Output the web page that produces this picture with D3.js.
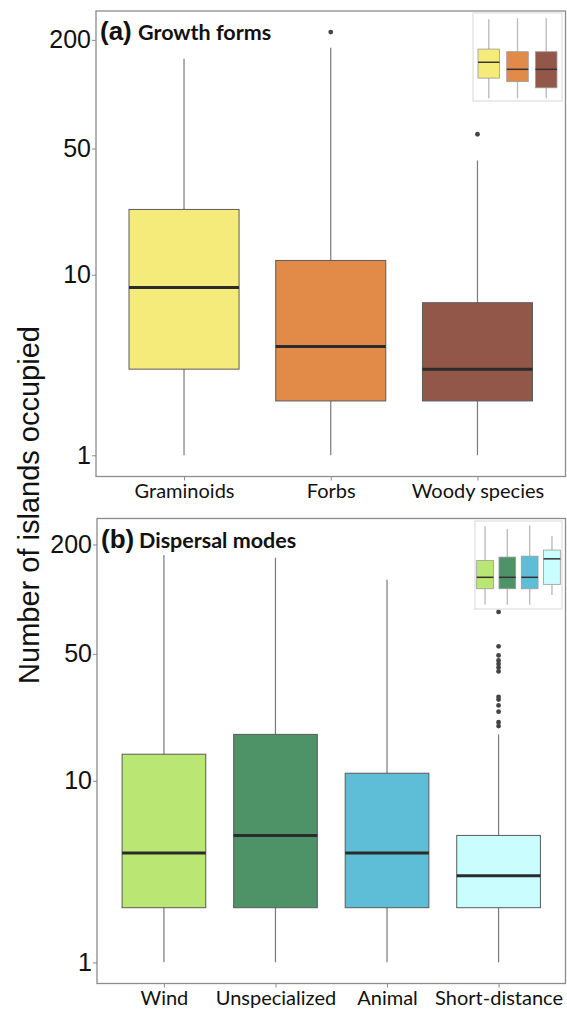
<!DOCTYPE html>
<html><head><meta charset="utf-8">
<script src="https://cdn.jsdelivr.net/npm/d3@7"></script>
<style>body{margin:0;background:#fff}svg{display:block}</style>
</head><body>
<svg id="chart" width="567" height="1010"></svg>
<script>
// Panel (a): growth forms — box summaries (number of islands)
const growthForms = ["Graminoids", "Forbs", "Woody species"];
const growthColors = ["#f5eb7b", "#e28b48", "#93574a"];
const growthLow = [1, 1, 1];
const growthQ1 = [3, 2, 2];
const growthMedian = [8.5, 4, 3];
const growthQ3 = [23, 12, 7];
const growthHigh = [157, 181, 43];
const growthOutliers = [[], [221], [60]];

// Panel (b): dispersal modes
const dispersalModes = ["Wind", "Unspecialized", "Animal", "Short-distance"];
const dispersalColors = ["#bae673", "#4e9367", "#5ebed8", "#cafefe"];
const dispersalLow = [1, 1, 1, 1];
const dispersalQ1 = [2, 2, 2, 2];
const dispersalMedian = [4, 5, 4, 3];
const dispersalQ3 = [14, 18, 11, 5];
const dispersalHigh = [175, 169, 128, 18];
const dispersalOutliers = [[], [], [], [85, 55, 49, 46, 44, 42, 40, 29, 28, 26, 24, 21, 20]];

// Inset boxes (relative scale 0–1)
const insetGrowthLow = [0.03, 0.03, 0.03];
const insetGrowthQ1 = [0.26, 0.22, 0.15];
const insetGrowthMedian = [0.44, 0.36, 0.36];
const insetGrowthQ3 = [0.59, 0.56, 0.56];
const insetGrowthHigh = [0.93, 0.94, 0.94];

const insetDispLow = [0.05, 0.05, 0.05, 0.16];
const insetDispQ1 = [0.23, 0.23, 0.23, 0.28];
const insetDispMedian = [0.36, 0.36, 0.36, 0.57];
const insetDispQ3 = [0.55, 0.59, 0.60, 0.67];
const insetDispHigh = [0.94, 0.91, 0.95, 0.83];

const yTicks = [1, 10, 50, 200];
const yLimitsA = [0.763, 289];
const yLimitsB = [0.765, 278];

const svg = d3.select("#chart");

function panel(cfg) {
  const { cats, colors, low, q1, med, q3, high, outliers, frame, yLimits, tag, title,
          inset } = cfg;
  const g = svg.append("g");
  const x = d3.scalePoint().domain(cats).range([frame.x0, frame.x1]).padding(0.6);
  const y = d3.scaleLog().domain(yLimits).range([frame.y1, frame.y0]);
  const boxW = x.step() * 0.75;

  // frame
  g.append("rect").attr("x", frame.x0).attr("y", frame.y0)
    .attr("width", frame.x1 - frame.x0).attr("height", frame.y1 - frame.y0)
    .attr("fill", "#fff").attr("stroke", "#8c8c8c").attr("stroke-width", 1.3);

  // axes
  const ya = g.append("g").attr("transform", `translate(${frame.x0},0)`)
    .call(d3.axisLeft(y).tickValues(yTicks).tickFormat(d3.format("d")).tickSize(4).tickPadding(1));
  ya.select(".domain").remove();
  ya.selectAll("line").attr("stroke", "#8c8c8c");
  ya.selectAll("text").attr("font-family", "Liberation Sans, Arial, sans-serif")
    .attr("font-size", 25).attr("fill", "#111");

  const xa = g.append("g").attr("transform", `translate(0,${frame.y1})`)
    .call(d3.axisBottom(x).tickSize(4).tickPadding(3));
  xa.select(".domain").remove();
  xa.selectAll("line").attr("stroke", "#8c8c8c");
  xa.selectAll("text").attr("font-family", "Lato, sans-serif")
    .attr("font-size", 20).attr("fill", "#111");

  const idx = d3.range(cats.length);
  // whiskers
  g.selectAll(".wh").data(idx).join("line")
    .attr("x1", i => x(cats[i])).attr("x2", i => x(cats[i]))
    .attr("y1", i => y(low[i])).attr("y2", i => y(high[i]))
    .attr("stroke", "#7a7a7a").attr("stroke-width", 1.2);
  // boxes
  g.selectAll(".bx").data(idx).join("rect")
    .attr("x", i => x(cats[i]) - boxW / 2).attr("width", boxW)
    .attr("y", i => y(q3[i])).attr("height", i => y(q1[i]) - y(q3[i]))
    .attr("fill", i => colors[i]).attr("stroke", "#5a5a5a").attr("stroke-width", 1);
  // medians
  g.selectAll(".md").data(idx).join("line")
    .attr("x1", i => x(cats[i]) - boxW / 2).attr("x2", i => x(cats[i]) + boxW / 2)
    .attr("y1", i => y(med[i])).attr("y2", i => y(med[i]))
    .attr("stroke", "#2b2b2b").attr("stroke-width", 3);
  // outliers
  const pts = idx.flatMap(i => outliers[i].map(v => ({ c: cats[i], v })));
  g.selectAll(".ol").data(pts).join("circle")
    .attr("cx", d => x(d.c)).attr("cy", d => y(d.v)).attr("r", 2.4)
    .attr("fill", "#444");

  // inset
  const ig = g.append("g");
  ig.append("rect").attr("x", inset.x0).attr("y", inset.y0)
    .attr("width", inset.x1 - inset.x0).attr("height", inset.y1 - inset.y0)
    .attr("fill", "#fff").attr("stroke", "#dedede").attr("stroke-width", 1.2);
  const ix = d3.scalePoint().domain(cats).range([inset.x0, inset.x1]).padding(inset.pad);
  const iy = d3.scaleLinear().domain([0, 1]).range([inset.y1, inset.y0]);
  const ibw = ix.step() * 0.75;
  const il = inset.data;
  ig.selectAll(".iw").data(idx).join("line")
    .attr("x1", i => ix(cats[i])).attr("x2", i => ix(cats[i]))
    .attr("y1", i => iy(il.low[i])).attr("y2", i => iy(il.high[i]))
    .attr("stroke", "#bdbdbd").attr("stroke-width", 1.4);
  ig.selectAll(".ib").data(idx).join("rect")
    .attr("x", i => ix(cats[i]) - ibw / 2).attr("width", ibw)
    .attr("y", i => iy(il.q3[i])).attr("height", i => iy(il.q1[i]) - iy(il.q3[i]))
    .attr("fill", i => colors[i]).attr("stroke", "#9a9a9a").attr("stroke-width", 0.8);
  ig.selectAll(".im").data(idx).join("line")
    .attr("x1", i => ix(cats[i]) - ibw / 2).attr("x2", i => ix(cats[i]) + ibw / 2)
    .attr("y1", i => iy(il.med[i])).attr("y2", i => iy(il.med[i]))
    .attr("stroke", "#333").attr("stroke-width", 1.5);

  // panel title
  g.append("text").attr("x", frame.x0 + 4).attr("y", frame.y0 + 29)
    .attr("font-family", "Liberation Sans, Arial, sans-serif").attr("font-weight", "bold")
    .attr("font-size", 26).attr("fill", "#111").text(tag);
  g.append("text").attr("x", frame.x0 + 42).attr("y", frame.y0 + 29)
    .attr("font-family", "Lato, sans-serif").attr("font-weight", "bold")
    .attr("font-size", 21.5).attr("fill", "#111").text(title);
}

panel({
  cats: growthForms, colors: growthColors,
  low: growthLow, q1: growthQ1, med: growthMedian, q3: growthQ3, high: growthHigh,
  outliers: growthOutliers,
  frame: { x0: 96, x1: 565.5, y0: 11, y1: 476.5 }, yLimits: yLimitsA,
  tag: "(a)", title: "Growth forms",
  inset: { x0: 473, x1: 562, y0: 13, y1: 101, pad: 0.55,
    data: { low: insetGrowthLow, q1: insetGrowthQ1, med: insetGrowthMedian, q3: insetGrowthQ3, high: insetGrowthHigh } }
});

panel({
  cats: dispersalModes, colors: dispersalColors,
  low: dispersalLow, q1: dispersalQ1, med: dispersalMedian, q3: dispersalQ3, high: dispersalHigh,
  outliers: dispersalOutliers,
  frame: { x0: 97, x1: 565.5, y0: 518.5, y1: 983.5 }, yLimits: yLimitsB,
  tag: "(b)", title: "Dispersal modes",
  inset: { x0: 475, x1: 562, y0: 521, y1: 609, pad: 0.45,
    data: { low: insetDispLow, q1: insetDispQ1, med: insetDispMedian, q3: insetDispQ3, high: insetDispHigh } }
});

// shared y-axis title
svg.append("text")
  .attr("transform", "translate(39,505) rotate(-90)")
  .attr("text-anchor", "middle")
  .attr("font-family", "Liberation Sans, Arial, sans-serif")
  .attr("font-size", 29).attr("fill", "#111")
  .text("Number of islands occupied");
</script>
</body></html>
